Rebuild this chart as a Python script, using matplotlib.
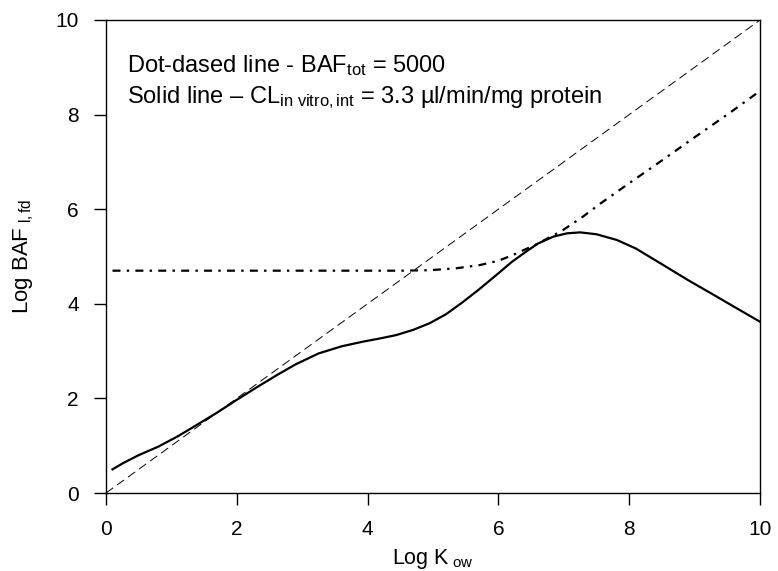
import numpy as np
import matplotlib
matplotlib.use("Agg")
import matplotlib.pyplot as plt

plt.rcParams['font.family'] = ['Liberation Sans', 'DejaVu Sans']
plt.rcParams['mathtext.fontset'] = 'custom'
plt.rcParams['mathtext.rm'] = 'Liberation Sans'
plt.rcParams['mathtext.it'] = 'Liberation Sans'

# solid line - CL in vitro,int = 3.3
solid_x = [0.1, 0.26, 0.5, 0.8, 1.1, 1.39, 1.7, 2.0, 2.3, 2.61, 2.9, 3.25, 3.6, 3.93,
           4.2, 4.44, 4.7, 4.95, 5.2, 5.46, 5.7, 5.97, 6.2, 6.4, 6.6, 6.84, 7.05,
           7.25, 7.5, 7.81, 8.1, 8.52, 8.9, 9.29, 9.65, 10.0]
solid_y = [0.5, 0.63, 0.8, 0.98, 1.2, 1.44, 1.7, 1.97, 2.23, 2.49, 2.72, 2.95, 3.1, 3.2,
           3.27, 3.34, 3.45, 3.59, 3.78, 4.04, 4.3, 4.61, 4.88, 5.08, 5.27, 5.42, 5.49,
           5.51, 5.47, 5.35, 5.17, 4.82, 4.5, 4.19, 3.9, 3.62]

# dot-dashed line - BAF tot = 5000
dd_x = [0.1, 1.0, 2.0, 3.0, 4.0, 4.5, 4.95, 5.35, 5.72, 6.0, 6.22, 6.6, 6.99, 7.3,
        7.55, 8.0, 8.5, 9.0, 9.5, 10.0]
dd_y = [4.7, 4.7, 4.7, 4.7, 4.7, 4.7, 4.71, 4.75, 4.82, 4.91, 5.03, 5.27, 5.56, 5.85,
        6.11, 6.55, 7.03, 7.52, 8.0, 8.5]

# 1:1 line
ref_x = [0, 10]
ref_y = [0, 10]

fig = plt.figure(figsize=(7.78, 5.71), dpi=100)
ax = fig.add_axes([0.1362, 0.1366, 0.8407, 0.8284])

ax.plot(ref_x, ref_y, color='black', lw=0.7, dashes=(9, 5))
ax.plot(dd_x, dd_y, color='black', lw=1.6, dashes=(3.6, 2.8, 1.1, 2.8))
ax.plot(solid_x, solid_y, color='black', lw=1.6, solid_joinstyle='round')

ax.set_xlim(0, 10)
ax.set_ylim(0, 10)
ax.set_xticks([0, 2, 4, 6, 8, 10])
ax.set_yticks([0, 2, 4, 6, 8, 10])
ax.tick_params(direction='out', length=8.5, labelsize=15, width=1, pad=11)
for s in ax.spines.values():
    s.set_linewidth(1)

ax.set_xlabel(r'Log K$_{\rm\ ow}$', fontsize=15.5, labelpad=6)
ax.set_ylabel(r'Log BAF$_{\rm\ l,fd}$', fontsize=16, labelpad=14)

ax.text(0.32, 8.9, r'Dot-dased line - BAF$_{\rm tot}$ = 5000', fontsize=17, va='baseline')
ax.text(0.32, 8.25, r'Solid line – CL$_{\rm in\ vitro,int}$ = 3.3 µl/min/mg protein', fontsize=17, va='baseline')

fig.savefig('out.png', dpi=100)
